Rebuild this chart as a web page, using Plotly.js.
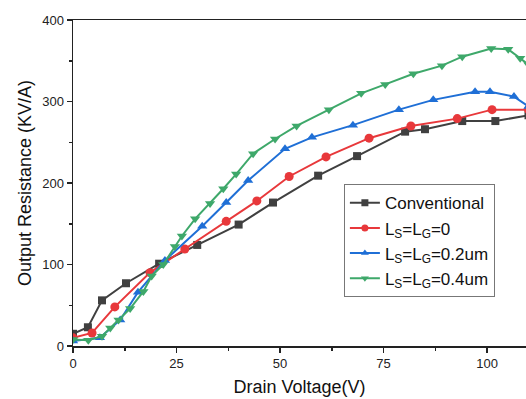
<!DOCTYPE html>
<html>
<head>
<meta charset="utf-8">
<script src="https://cdn.plot.ly/plotly-3.0.1.min.js"></script>
<style>html,body{margin:0;padding:0;background:#fff;}#chart{width:526px;height:399px;}</style>
</head>
<body>
<div id="chart"></div>
<script>
const convX = [0, 3.6, 7, 12.8, 20.8, 30, 40, 48.3, 59.2, 68.6, 80.2, 85, 94, 102, 110];
const convY = [15, 23, 56, 77, 101, 124, 149, 176, 209, 233, 263, 266, 276, 276, 283];

const ls0X = [0, 4.6, 10.1, 18.6, 27, 37, 44.4, 52.2, 61.1, 71.5, 81.6, 92.8, 101.2, 110];
const ls0Y = [10, 16, 48, 90, 119, 153, 178, 208, 232, 255, 270, 279, 290, 290];

const ls02X = [0, 6.5, 11.4, 15.7, 22.2, 31.2, 37, 42.3, 51.2, 57.7, 67.6, 78.7, 87, 97.1, 100.7, 106.5, 110];
const ls02Y = [6, 10, 32, 66, 105, 147, 176, 203, 242, 256, 271, 290, 302, 312, 312, 306, 294];

const ls04X = [0, 3.7, 7, 9, 11, 13.8, 17, 19, 21.8, 24.6, 26.3, 29.5, 33.1, 36.3, 39.4, 43.5, 48.8, 54, 61.8, 69.6, 75.4, 82.2, 89.1, 94, 101, 105.1, 108, 110];
const ls04Y = [8, 7, 12, 22, 32, 46, 67, 86, 100, 122, 135, 156, 175, 193, 211, 236, 254, 270, 290, 310, 321, 334, 344, 355, 365, 364, 353, 345];

const names = ['Conventional', 'L<sub>S</sub>=L<sub>G</sub>=0', 'L<sub>S</sub>=L<sub>G</sub>=0.2um', 'L<sub>S</sub>=L<sub>G</sub>=0.4um'];
const colors = ['#404040', '#e8383b', '#1f6fd6', '#3ea86a'];
const symbols = ['square', 'circle', 'triangle-up', 'triangle-down'];
const xs = [convX, ls0X, ls02X, ls04X];
const ys = [convY, ls0Y, ls02Y, ls04Y];

const traces = xs.map((x, i) => ({
  x: x, y: ys[i], name: names[i], type: 'scatter', mode: 'lines+markers',
  showlegend: false, legendgroup: 'g' + i,
  line: {color: colors[i], width: 2},
  marker: {color: colors[i], symbol: symbols[i], size: i === 0 ? 8 : 9}
}));
// legend entries with smaller markers (no data of their own)
names.forEach((n, i) => traces.push({
  x: [null], y: [null], name: n, type: 'scatter', mode: 'lines+markers',
  legendgroup: 'g' + i, showlegend: true,
  line: {color: colors[i], width: 2},
  marker: {color: colors[i], symbol: symbols[i], size: 7}
}));

const layout = {
  width: 526, height: 399,
  margin: {l: 73, r: 0, t: 20, b: 53},
  paper_bgcolor: '#fff', plot_bgcolor: '#fff',
  font: {family: 'Liberation Sans, Arial, sans-serif', color: '#222'},
  showlegend: true,
  legend: {x: 0.598, y: 0.496, xanchor: 'left', yanchor: 'top',
    bordercolor: '#777', borderwidth: 1, bgcolor: '#fff',
    font: {size: 17, color: '#111'}, tracegroupgap: 0, itemwidth: 30},
  xaxis: {
    range: [0, 109.4], showgrid: false, zeroline: false,
    showline: true, linecolor: '#222', linewidth: 1.5, mirror: true,
    ticks: 'outside', ticklen: 5, tickcolor: '#222', tickwidth: 1.5,
    tickvals: [0, 25, 50, 75, 100], tickfont: {size: 13, color: '#222'},
    minor: {tickvals: [12.5, 37.5, 62.5, 87.5], ticks: 'outside', ticklen: 3, tickcolor: '#222'},
    title: {text: 'Drain Voltage(V)', font: {size: 18, color: '#111'}, standoff: 10}
  },
  yaxis: {
    range: [0, 400], showgrid: false, zeroline: false,
    showline: true, linecolor: '#222', linewidth: 1.5,
    ticks: 'outside', ticklen: 5, tickcolor: '#222', tickwidth: 1.5,
    tickvals: [0, 100, 200, 300, 400], tickfont: {size: 13, color: '#222'},
    minor: {tickvals: [50, 150, 250, 350], ticks: 'outside', ticklen: 3, tickcolor: '#222'},
    title: {text: 'Output Resistance (KV/A)', font: {size: 18, color: '#111'}, standoff: 6}
  }
};

Plotly.newPlot('chart', traces, layout, {displayModeBar: false, staticPlot: true});
</script>
</body>
</html>
